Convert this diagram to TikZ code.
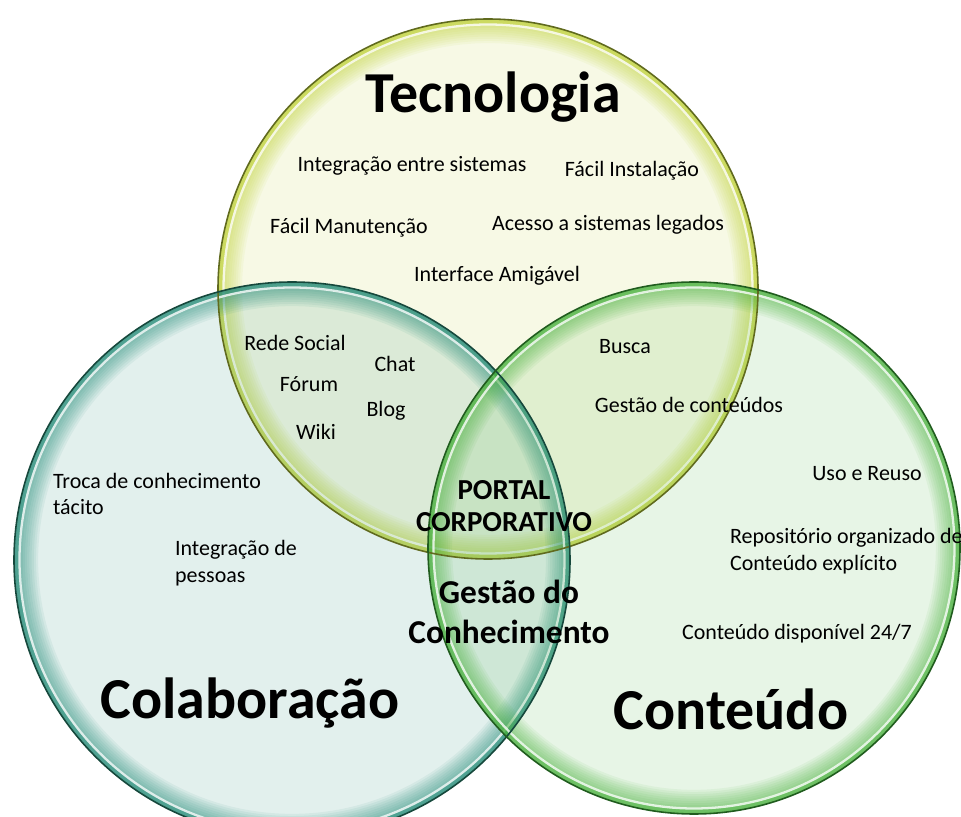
\documentclass[tikz,border=0pt]{standalone}
\usepackage{fontspec}
\setmainfont{Carlito}
\definecolor{tecfill}{RGB}{190,208,56}
\definecolor{tecline}{RGB}{96,106,30}
\definecolor{colfill}{RGB}{34,138,118}
\definecolor{colline}{RGB}{22,72,60}
\definecolor{cntfill}{RGB}{72,176,60}
\definecolor{cntline}{RGB}{32,92,30}
\usetikzlibrary{positioning}
\tikzset{
  item/.style={font=\fontsize{12.5}{15}\selectfont, align=center, inner sep=1pt},
  itemleft/.style={item, align=left, anchor=west},
  bigtitle/.style={font=\fontsize{33}{36}\selectfont\bfseries, inner sep=0pt},
  core/.style={font=\fontsize{16.5}{18.5}\selectfont\bfseries, align=center, inner sep=0pt},
  corebig/.style={font=\fontsize{19}{22.5}\selectfont\bfseries, align=center, inner sep=0pt},
}
\newcommand{\venncircle}[3]{%
  \fill[#3, fill opacity=0.13] (#1) circle [radius=#2];
  \begin{scope}
    \clip (#1) circle [radius=#2];
    \foreach \w in {2.5,5,...,27.5}
      \draw[#3, opacity=0.08, line width=\w pt] (#1) circle [radius=#2];
    \draw[#3, opacity=0.45, line width=7pt] (#1) circle [radius=#2];
    \draw[white, opacity=0.8, line width=1.3pt] (#1) circle [radius=#2-5.5];
  \end{scope}
}

\begin{document}
\begin{tikzpicture}[x=0.02cm, y=-0.02cm]
    \useasboundingbox (0,0) rectangle (961,817);
    \coordinate (tec) at (488,289);
    \coordinate (col) at (292,560);
    \coordinate (cnt) at (694,548);
    \venncircle{tec}{270}{tecfill}
    \venncircle{col}{278}{colfill}
    \venncircle{cnt}{266}{cntfill}
    \draw[tecline, line width=0.9pt] (tec) circle [radius=270];
    \draw[colline, line width=0.9pt] (col) circle [radius=278];
    \draw[cntline, line width=0.9pt] (cnt) circle [radius=266];
    % tecnologia
    \node[bigtitle] (tecT) at (493,97) {Tecnologia};
    \node[item] (integ) at (412,166) {Integração entre sistemas};
    \node[item] (inst)  at (632,171) {Fácil Instalação};
    \node[item] (manut) at (349,228) {Fácil Manutenção};
    \node[item] (leg)   at (608,225) {Acesso a sistemas legados};
    \node[item] (iface) at (497,276) {Interface Amigável};
    % tecnologia + colaboracao
    \node[item] (rede)  at (295,343) {Rede Social};
    \node[item] (chat)  at (395,364) {Chat};
    \node[item] (forum) at (309,384) {Fórum};
    \node[item] (blog)  at (386,411) {Blog};
    \node[item] (wiki)  at (316,432) {Wiki};
    % tecnologia + conteudo
    \node[item] (busca) at (625,347) {Busca};
    \node[item] (gcont) at (689,405) {Gestão de conteúdos};
    % colaboracao
    \node[itemleft] (troca) at (51,494) {Troca de conhecimento\\tácito};
    \node[itemleft] (pess)  at (173,563) {Integração de\\pessoas};
    \node[bigtitle] (colT) at (250,703) {Colaboração};
    % conteudo
    \node[item] (reuso) at (867,474) {Uso e Reuso};
    \node[itemleft] (repo) at (728,551) {Repositório organizado de\\Conteúdo explícito};
    \node[item] (disp)  at (797,634) {Conteúdo disponível 24/7};
    \node[bigtitle] (cntT) at (731,709) {Conteúdo};
    % centro
    \node[core] (portal) at (504,506) {PORTAL\\CORPORATIVO};
    \node[corebig] (gc) at (509,612) {Gestão do\\Conhecimento};
\end{tikzpicture}
\end{document}
